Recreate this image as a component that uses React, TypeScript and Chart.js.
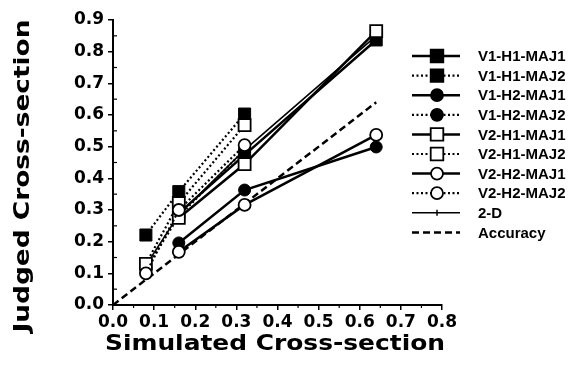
import React, { useEffect, useRef } from 'react';
import { Chart, registerables } from 'chart.js';

Chart.register(...registerables);

// ---- data ----
const xMaj1 = [0.16, 0.32, 0.64];
const xMaj2 = [0.08, 0.16, 0.32];
const x2D = [0.08, 0.16, 0.32, 0.64];
const xAccuracy = [0, 0.64];

const v1h1maj1 = [0.29, 0.474, 0.837];
const v1h1maj2 = [0.221, 0.358, 0.603];
const v1h2maj1 = [0.196, 0.363, 0.499];
const v1h2maj2 = [0.115, 0.28, 0.49];
const v2h1maj1 = [0.275, 0.445, 0.865];
const v2h1maj2 = [0.13, 0.322, 0.568];
const v2h2maj1 = [0.168, 0.316, 0.537];
const v2h2maj2 = [0.1, 0.3, 0.505];
const twoD = [0.125, 0.285, 0.49, 0.85];
const accuracy = [0, 0.64];

const xTickLabels = ['0.0', '0.1', '0.2', '0.3', '0.4', '0.5', '0.6', '0.7', '0.8'];
const yTickLabels = ['0.0', '0.1', '0.2', '0.3', '0.4', '0.5', '0.6', '0.7', '0.8', '0.9'];

const xTitle = 'Simulated Cross-section';
const yTitle = 'Judged Cross-section';

type Marker = 'sqFill' | 'sqOpen' | 'cirFill' | 'cirOpen' | 'tick' | 'none';
type Series = { label: string; xs: number[]; ys: number[]; marker: Marker; dash: number[]; width: number; order: number };

const SOLID: number[] = [];
const DOT = [2, 2.5];
const DASH = [7, 4];

const series: Series[] = [
  { label: 'V1-H1-MAJ1', xs: xMaj1, ys: v1h1maj1, marker: 'sqFill', dash: SOLID, width: 2.5, order: 2 },
  { label: 'V1-H1-MAJ2', xs: xMaj2, ys: v1h1maj2, marker: 'sqFill', dash: DOT, width: 2.2, order: 2 },
  { label: 'V1-H2-MAJ1', xs: xMaj1, ys: v1h2maj1, marker: 'cirFill', dash: SOLID, width: 2.5, order: 2 },
  { label: 'V1-H2-MAJ2', xs: xMaj2, ys: v1h2maj2, marker: 'cirFill', dash: DOT, width: 2.2, order: 3 },
  { label: 'V2-H1-MAJ1', xs: xMaj1, ys: v2h1maj1, marker: 'sqOpen', dash: SOLID, width: 2.5, order: 1 },
  { label: 'V2-H1-MAJ2', xs: xMaj2, ys: v2h1maj2, marker: 'sqOpen', dash: DOT, width: 2.2, order: 1 },
  { label: 'V2-H2-MAJ1', xs: xMaj1, ys: v2h2maj1, marker: 'cirOpen', dash: SOLID, width: 2.5, order: 1 },
  { label: 'V2-H2-MAJ2', xs: xMaj2, ys: v2h2maj2, marker: 'cirOpen', dash: DOT, width: 2.2, order: 0 },
  { label: '2-D', xs: x2D, ys: twoD, marker: 'tick', dash: SOLID, width: 1.6, order: 4 },
  { label: 'Accuracy', xs: xAccuracy, ys: accuracy, marker: 'none', dash: DASH, width: 2.5, order: 5 },
];

function markerProps(m: Marker) {
  switch (m) {
    case 'sqFill':
      return { pointStyle: 'rect', pointRadius: 8.5, pointBackgroundColor: '#000', pointBorderColor: '#000', pointBorderWidth: 1 };
    case 'sqOpen':
      return { pointStyle: 'rect', pointRadius: 8.5, pointBackgroundColor: '#fff', pointBorderColor: '#000', pointBorderWidth: 1.8 };
    case 'cirFill':
      return { pointStyle: 'circle', pointRadius: 6, pointBackgroundColor: '#000', pointBorderColor: '#000', pointBorderWidth: 1 };
    case 'cirOpen':
      return { pointStyle: 'circle', pointRadius: 6, pointBackgroundColor: '#fff', pointBorderColor: '#000', pointBorderWidth: 1.8 };
    case 'tick':
      return { pointStyle: 'line', pointRadius: 3, pointRotation: 90, pointBackgroundColor: '#000', pointBorderColor: '#000', pointBorderWidth: 1.5 };
    default:
      return { pointRadius: 0 };
  }
}

function drawMarker(ctx: CanvasRenderingContext2D, m: Marker, x: number, y: number) {
  ctx.save();
  ctx.setLineDash([]);
  ctx.strokeStyle = '#000';
  if (m === 'sqFill' || m === 'sqOpen') {
    const s = 6.3;
    ctx.fillStyle = m === 'sqFill' ? '#000' : '#fff';
    ctx.lineWidth = 1.8;
    ctx.beginPath();
    ctx.rect(x - s, y - s, 2 * s, 2 * s);
    ctx.fill();
    ctx.stroke();
  } else if (m === 'cirFill' || m === 'cirOpen') {
    ctx.fillStyle = m === 'cirFill' ? '#000' : '#fff';
    ctx.lineWidth = 1.8;
    ctx.beginPath();
    ctx.arc(x, y, 6, 0, Math.PI * 2);
    ctx.fill();
    ctx.stroke();
  } else if (m === 'tick') {
    ctx.lineWidth = 1.5;
    ctx.beginPath();
    ctx.moveTo(x, y - 3);
    ctx.lineTo(x, y + 3);
    ctx.stroke();
  }
  ctx.restore();
}

const extrasPlugin = {
  id: 'extras',
  afterDraw(chart: any) {
    const ctx: CanvasRenderingContext2D = chart.ctx;
    const xs = chart.scales.x;
    const ys = chart.scales.y;
    const area = chart.chartArea;

    // minor ticks
    ctx.save();
    ctx.strokeStyle = '#000';
    ctx.lineWidth = 1.2;
    ctx.setLineDash([]);
    for (let i = 0; i < 9; i++) {
      const yy = ys.getPixelForValue(i * 0.1 + 0.05);
      ctx.beginPath();
      ctx.moveTo(area.left, yy);
      ctx.lineTo(area.left + 4, yy);
      ctx.stroke();
    }
    for (let i = 0; i < 8; i++) {
      const xx = xs.getPixelForValue(i * 0.1 + 0.05);
      ctx.beginPath();
      ctx.moveTo(xx, area.bottom);
      ctx.lineTo(xx, area.bottom + 3);
      ctx.stroke();
    }
    ctx.restore();

    // axis titles
    const drawFit = (text: string, cx: number, cy: number, rot: number, targetW: number, size: number) => {
      ctx.save();
      ctx.font = `bold ${size}px "DejaVu Sans"`;
      ctx.fillStyle = '#000';
      ctx.textAlign = 'center';
      ctx.textBaseline = 'middle';
      const w = ctx.measureText(text).width;
      ctx.translate(cx, cy);
      ctx.rotate(rot);
      ctx.scale(targetW / w, 1);
      ctx.fillText(text, 0, 0);
      ctx.restore();
    };
    drawFit(xTitle, 275, 344, 0, 340, 22);
    drawFit(yTitle, 23, 176, -Math.PI / 2, 313, 22);

    // legend
    const lx0 = 412;
    const lx1 = 460;
    const mx = 437;
    const tx = 478;
    const y0 = 56;
    const step = 19.6;
    series.forEach((s, i) => {
      const y = y0 + i * step;
      ctx.save();
      ctx.strokeStyle = '#000';
      ctx.lineWidth = s.width;
      ctx.setLineDash(s.dash);
      ctx.beginPath();
      ctx.moveTo(lx0, y);
      ctx.lineTo(lx1, y);
      ctx.stroke();
      ctx.restore();
      drawMarker(ctx, s.marker, mx, y);
      ctx.save();
      ctx.font = 'bold 15px "Liberation Sans"';
      ctx.fillStyle = '#000';
      ctx.textAlign = 'left';
      ctx.textBaseline = 'middle';
      ctx.fillText(s.label, tx, y + 1);
      ctx.restore();
    });
  },
};

export default function App() {
  const ref = useRef<HTMLCanvasElement | null>(null);
  useEffect(() => {
    if (!ref.current) return;
    const datasets = series.map((s) => ({
      label: s.label,
      data: s.xs.map((x, i) => ({ x, y: s.ys[i] })),
      showLine: true,
      borderColor: '#000',
      borderWidth: s.width,
      borderDash: s.dash,
      fill: false,
      tension: 0,
      order: s.order,
      ...markerProps(s.marker),
    }));
    const chart = new Chart(ref.current, {
      type: 'scatter',
      data: { datasets: datasets as any },
      options: {
        animation: false,
        responsive: true,
        maintainAspectRatio: false,
        layout: { padding: { top: 20, right: 136, left: 0, bottom: 0 } },
        plugins: { legend: { display: false }, tooltip: { enabled: false } },
        scales: {
          x: {
            type: 'linear',
            min: 0,
            max: 0.8,
            afterFit: (sc: any) => { sc.height = 68; },
            border: { display: true, color: '#000', width: 2 },
            grid: { display: true, drawOnChartArea: false, drawTicks: true, tickLength: 5, color: '#000', lineWidth: 1.5 },
            ticks: {
              stepSize: 0.1,
              padding: 2,
              color: '#000',
              font: { family: '"DejaVu Sans"', size: 17, weight: 'bold' },
              maxRotation: 0,
              autoSkip: false,
              callback: (v: any) => xTickLabels[Math.round(Number(v) * 10)] ?? '',
            },
          },
          y: {
            type: 'linear',
            min: 0,
            max: 0.9,
            afterFit: (sc: any) => { sc.width = 113; },
            border: { display: true, color: '#000', width: 2 },
            grid: { display: true, drawOnChartArea: false, drawTicks: true, tickLength: 5, color: '#000', lineWidth: 1.5 },
            ticks: {
              stepSize: 0.1,
              padding: 4,
              color: '#000',
              font: { family: '"DejaVu Sans"', size: 17, weight: 'bold' },
              autoSkip: false,
              callback: (v: any) => yTickLabels[Math.round(Number(v) * 10)] ?? '',
            },
          },
        },
      },
      plugins: [extrasPlugin],
    });
    return () => chart.destroy();
  }, []);
  return (
    <div style={{ position: 'fixed', left: 0, top: 0, width: 578, height: 373, background: '#fff' }}>
      <canvas ref={ref} />
    </div>
  );
}
